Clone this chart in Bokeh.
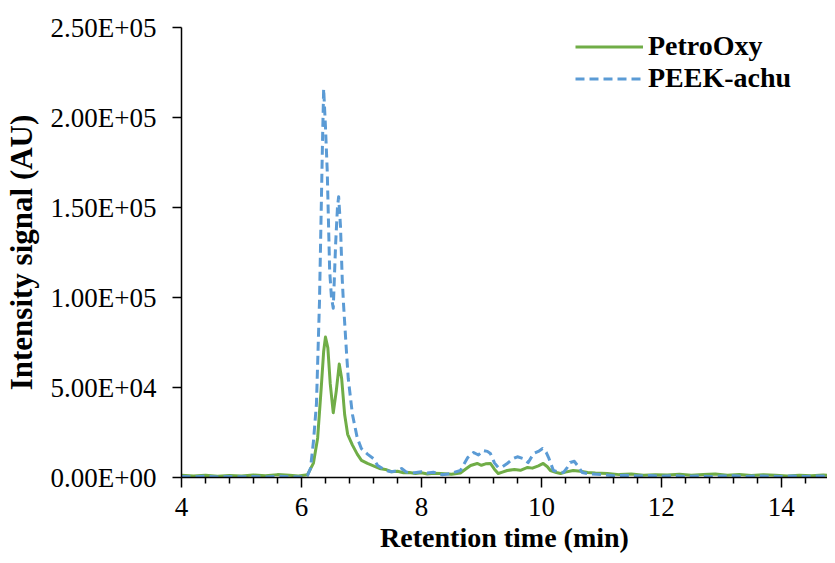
from bokeh.plotting import figure
from bokeh.models import FixedTicker, Legend, LegendItem, Range1d
from bokeh.embed import file_html
from bokeh.resources import INLINE

# PetroOxy (green, solid)
petro_x = [4.0, 4.2, 4.4, 4.6, 4.8, 5.0, 5.2, 5.4, 5.6, 5.8, 5.95, 6.1, 6.2, 6.27, 6.33, 6.37, 6.4,
           6.44, 6.48, 6.53, 6.58, 6.63, 6.67, 6.72, 6.77, 6.85, 6.93, 7.0, 7.1, 7.2, 7.3, 7.4, 7.5,
           7.6, 7.7, 7.8, 7.9, 8.0, 8.1, 8.2, 8.32, 8.5, 8.65, 8.75, 8.82, 8.93, 9.0, 9.07, 9.15, 9.22,
           9.28, 9.35, 9.43, 9.55, 9.65, 9.77, 9.85, 9.95, 10.03, 10.1, 10.15, 10.25, 10.32, 10.4,
           10.53, 10.65, 10.77, 10.9, 11.1, 11.3, 11.5, 11.7, 11.9, 12.1, 12.3, 12.5, 12.7, 12.9,
           13.1, 13.3, 13.5, 13.7, 13.9, 14.1, 14.3, 14.5, 14.7, 14.9]
petro_y = [1200, 800, 1300, 700, 1100, 900, 1400, 1000, 1600, 1200, 900, 1500, 8000, 22000, 50000,
           70000, 78000, 72000, 52000, 36000, 48000, 63000, 55000, 35000, 24000, 18000, 13000, 9500,
           7800, 6500, 5000, 4500, 3200, 3500, 2600, 2800, 2200, 2600, 2000, 2300, 2200, 1800, 2500,
           5000, 6700, 7800, 6800, 7600, 7800, 4500, 2200, 3000, 3900, 4400, 4000, 5600, 5200, 6500,
           7800, 6000, 3900, 2800, 2200, 3000, 3900, 3500, 2800, 2500, 2200, 1600, 1900, 1200, 1500,
           1400, 1800, 1200, 1600, 1900, 1300, 1700, 1100, 1500, 1200, 900, 1300, 1000, 1400, 1100]

# PEEK-achu (blue, dashed)
peek_x = [4.0, 4.2, 4.4, 4.6, 4.8, 5.0, 5.2, 5.4, 5.6, 5.8, 6.0, 6.1, 6.15, 6.2, 6.25, 6.3, 6.33,
          6.35, 6.37, 6.4, 6.43, 6.47, 6.5, 6.53, 6.57, 6.6, 6.62, 6.65, 6.68, 6.7, 6.75, 6.78, 6.85,
          6.93, 7.0, 7.1, 7.2, 7.27, 7.4, 7.5, 7.6, 7.67, 7.75, 7.85, 8.0, 8.1, 8.2, 8.35, 8.48, 8.65,
          8.77, 8.87, 8.95, 9.03, 9.1, 9.15, 9.22, 9.28, 9.35, 9.43, 9.53, 9.6, 9.7, 9.78, 9.87, 9.95,
          10.02, 10.08, 10.12, 10.2, 10.3, 10.37, 10.43, 10.48, 10.55, 10.6, 10.68, 10.8, 11.0, 11.2,
          11.4, 11.6, 11.8, 12.0, 12.2, 12.4, 12.6, 12.8, 13.0, 13.2, 13.4, 13.6, 13.8, 14.0, 14.2,
          14.4, 14.6, 14.8]
peek_y = [600, 400, 700, 300, 500, 400, 600, 300, 700, 400, 300, 1000, 5000, 20000, 41000, 97000,
          150000, 185000, 216000, 195000, 170000, 115000, 100000, 94000, 130000, 150000, 156000,
          140000, 110000, 97000, 70000, 55000, 35000, 22000, 16000, 13000, 10500, 6700, 4000, 3200,
          3800, 5000, 3000, 2500, 3200, 2500, 2900, 1500, 2200, 3900, 11000, 13900, 12500, 15000,
          14500, 13300, 8000, 5600, 6000, 7800, 10500, 11500, 10500, 8300, 13300, 14500, 16100,
          14000, 11100, 3900, 3000, 2800, 5500, 8300, 9000, 6700, 2800, 2000, 1600, 1000, 1300, 800,
          1100, 700, 1000, 600, 900, 500, 800, 1000, 600, 900, 700, 500, 800, 600, 900, 500]

series_names = ["PetroOxy", "PEEK-achu"]
x_ticks = [4, 6, 8, 10, 12, 14]
x_minor = [4.4, 4.8, 5.2, 5.6, 6.4, 6.8, 7.2, 7.6, 8.4, 8.8, 9.2, 9.6, 10.4, 10.8, 11.2, 11.6,
           12.4, 12.8, 13.2, 13.6, 14.4]
y_ticks = [0, 50000, 100000, 150000, 200000, 250000]
y_tick_labels = ["0.00E+00", "5.00E+04", "1.00E+05", "1.50E+05", "2.00E+05", "2.50E+05"]

FONT = "Liberation Serif"

p = figure(width=827, height=555, output_backend="svg", toolbar_location=None,
           x_range=Range1d(4, 14.77), y_range=Range1d(0, 250000),
           min_border_left=181, min_border_right=0, min_border_top=27, min_border_bottom=78)
p.outline_line_color = None
p.xgrid.grid_line_color = None
p.ygrid.grid_line_color = None
p.background_fill_color = "white"

r_petro = p.line(petro_x, petro_y, line_color="#70AD47", line_width=3, line_join="round")
r_peek = p.line(peek_x, peek_y, line_color="#5B9BD5", line_width=3, line_dash="9 5",
                line_join="round")

xa = p.xaxis[0]
xa.ticker = FixedTicker(ticks=x_ticks, minor_ticks=x_minor)
xa.axis_label = "Retention time (min)"
xa.axis_label_text_font = FONT
xa.axis_label_text_font_style = "bold"
xa.axis_label_text_font_size = "28px"
xa.axis_label_text_color = "black"
xa.axis_label_standoff = 3
xa.major_label_text_font = FONT
xa.major_label_text_font_size = "27px"
xa.major_label_text_color = "black"
xa.major_label_standoff = 10
xa.major_tick_out = 10
xa.major_tick_in = 0
xa.minor_tick_out = 6
xa.minor_tick_in = 0
xa.axis_line_width = 1.5
xa.major_tick_line_width = 1.5
xa.minor_tick_line_width = 1.5
xa.axis_line_color = "black"

ya = p.yaxis[0]
ya.ticker = FixedTicker(ticks=y_ticks, minor_ticks=[])
ya.major_label_overrides = {t: l for t, l in zip(y_ticks, y_tick_labels)}
ya.axis_label = "Intensity signal (AU)"
ya.axis_label_text_font = FONT
ya.axis_label_text_font_style = "bold"
ya.axis_label_text_font_size = "31px"
ya.axis_label_text_color = "black"
ya.axis_label_standoff = 9
ya.major_label_text_font = FONT
ya.major_label_text_font_size = "27px"
ya.major_label_text_color = "black"
ya.major_label_standoff = 16
ya.major_tick_out = 9
ya.major_tick_in = 0
ya.minor_tick_out = 0
ya.minor_tick_in = 0
ya.axis_line_width = 1.5
ya.major_tick_line_width = 1.5
ya.axis_line_color = "black"

legend = Legend(items=[LegendItem(label=series_names[0], renderers=[r_petro]),
                       LegendItem(label=series_names[1], renderers=[r_peek])],
                location=(394, 383), orientation="vertical",
                label_text_font=FONT, label_text_font_style="bold", label_text_font_size="28px",
                label_text_color="black",
                glyph_width=68, glyph_height=29, label_height=29, label_standoff=5,
                spacing=0, padding=0, margin=0, border_line_color=None,
                background_fill_alpha=0)
p.add_layout(legend)

open("out.html", "w").write(file_html(p, INLINE))
